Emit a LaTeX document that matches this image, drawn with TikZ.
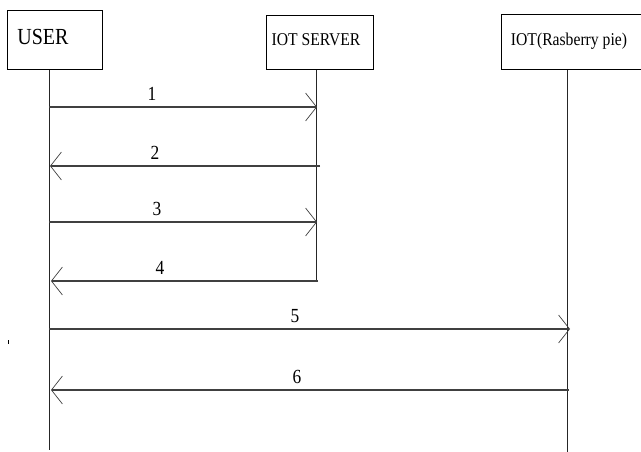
\documentclass[tikz,border=0pt]{standalone}
\usepackage{fontspec}
\newfontfamily\seqfont[FakeStretch=0.87]{Liberation Serif}
\usepackage{tikz}
\usetikzlibrary{arrows.meta}

\tikzset{
  actor/.style={draw, line width=0.9pt, rectangle, anchor=north west, inner sep=0pt},
  lifeline/.style={line width=0.8pt, black!85},
  msg/.style={line width=1.3pt, black!75, -{Straight Barb[length=11pt,width=28pt,line width=0.7pt]}},
}

\begin{document}
\begin{tikzpicture}[x=1pt,y=-1pt,font=\seqfont]
\useasboundingbox (0,0) rectangle (641,452);
% the three boxes
\node[actor, minimum width=95, minimum height=59] (user) at (7,10) {};
\node[actor, minimum width=107, minimum height=54] (server) at (266,15) {};
\node[actor, minimum width=140, minimum height=55] (iot) at (500.5,14) {};
\node[font=\seqfont\fontsize{23}{25}\selectfont] (userlab) at (43,37) {USER};
\node[font=\seqfont\fontsize{18}{20}\selectfont] (serverlab) at (316,40) {IOT SERVER};
\node[font=\seqfont\fontsize{18}{20}\selectfont] (iotlab) at (569,41) {IOT(Rasberry pie)};
% lifelines
\coordinate (uend) at (49,450);
\coordinate (send) at (316,282);
\coordinate (iend) at (567,452);
\draw[lifeline] (user.south -| uend) -- (uend);
\draw[lifeline] (server.south -| send) -- (send);
\draw[lifeline] (iot.south -| iend) -- (iend);
% messages
\foreach \n/\y/\a/\b/\lx in {1/107/49/317/152, 2/166/320/50/155, 3/222/49/317/157, 4/281/318/51/160, 5/329/49/570/295, 6/390/569/51/297} {
  \coordinate (from\n) at (\a,\y);
  \coordinate (to\n) at (\b,\y);
  \draw[msg] (from\n) -- (to\n);
  \node[font=\seqfont\fontsize{20}{22}\selectfont, above=3pt] (lab\n) at (\lx,\y) {\n};
}
\draw[line width=0.6pt] (8,340) -- (8,344);
\end{tikzpicture}
\end{document}
